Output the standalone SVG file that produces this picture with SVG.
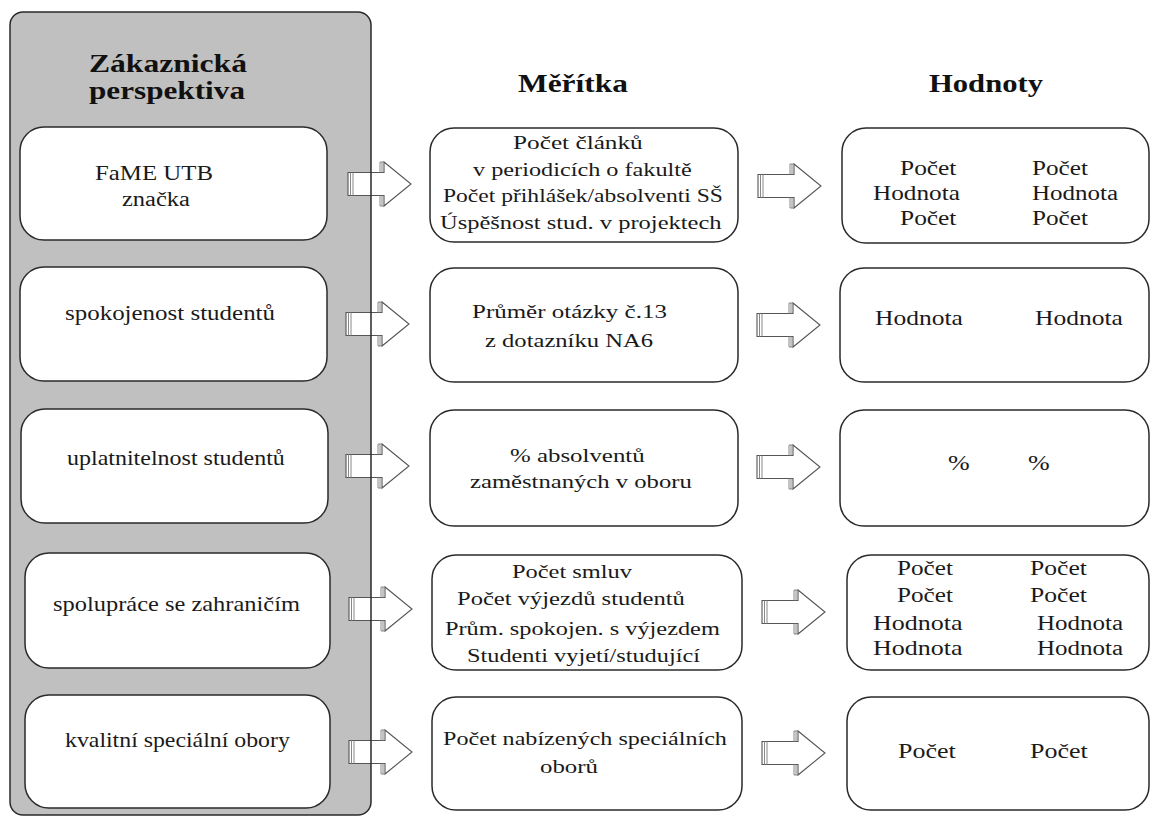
<svg xmlns="http://www.w3.org/2000/svg" xmlns:xlink="http://www.w3.org/1999/xlink" width="1151" height="818" viewBox="0 0 1151 818">
  <style>
    .panel { fill: #c0c0c0; stroke: none; }
    .frame { fill: none; stroke: #2a2a2a; stroke-width: 1.5; }
    .box { fill: #ffffff; stroke: #2a2a2a; stroke-width: 1.5; }
    .head { font-family: "Liberation Serif", "Times New Roman", serif; font-weight: bold; font-size: 25px; fill: #111; }
    .lbl { font-family: "Liberation Serif", "Times New Roman", serif; font-size: 20px; fill: #1a1a1a; }
    .mid { font-family: "Liberation Serif", "Times New Roman", serif; font-size: 19px; fill: #1a1a1a; }
    .arrow { fill: #ffffff; stroke: #555; stroke-width: 1.1; }
    .stripe { stroke: #888; stroke-width: 1; fill: none; }
  </style>
  <defs>
    <!-- block arrow: origin at tail's left end, vertically centred -->
    <g id="blockArrow">
      <path class="arrow" d="M0,-11.5 H36 V-22 L63,0 L36,22 V11.5 H0 Z"/>
      <path class="stripe" d="M2.5,-11.5 V11.5 M5,-11.5 V11.5 M32,-22 V-11.5 M32,11.5 V22 M34,-22 V-11.5 M34,11.5 V22 M32,-22 H36 M32,22 H36"/>
    </g>
  </defs>

  <rect width="1151" height="818" fill="#ffffff"/>

  <!-- customer perspective panel (text is set in a horizontally widened face) -->
  <g id="panel">
    <rect class="panel" x="10" y="12" width="361" height="803" rx="13"/>
    <text class="head" transform="translate(89 72) scale(1.264 1)">Zákaznická</text>
    <text class="head" transform="translate(89 99) scale(1.248 1)">perspektiva</text>
  </g>

  <!-- column headings -->
  <g id="heading-meritka">
    <text class="head" transform="translate(518 92) scale(1.257 1)">Měřítka</text>
  </g>
  <g id="heading-hodnoty">
    <text class="head" transform="translate(929 92) scale(1.225 1)">Hodnoty</text>
  </g>

  <!-- perspective goals -->
  <g id="goal-1">
    <rect class="box" x="20" y="127" width="307" height="113" rx="24"/>
    <text class="lbl" transform="translate(95 180) scale(1.242 1)">FaME UTB</text>
    <text class="lbl" transform="translate(122 206) scale(1.225 1)">značka</text>
  </g>
  <g id="goal-2">
    <rect class="box" x="20" y="267" width="307" height="114" rx="24"/>
    <text class="lbl" transform="translate(65 320) scale(1.248 1)">spokojenost studentů</text>
  </g>
  <g id="goal-3">
    <rect class="box" x="21" y="409" width="307" height="114" rx="24"/>
    <text class="lbl" transform="translate(67 465) scale(1.2 1)">uplatnitelnost studentů</text>
  </g>
  <g id="goal-4">
    <rect class="box" x="25" y="553" width="305" height="115" rx="24"/>
    <text class="lbl" transform="translate(53 611) scale(1.222 1)">spolupráce se zahraničím</text>
  </g>
  <g id="goal-5">
    <rect class="box" x="25" y="695" width="305" height="113" rx="24"/>
    <text class="lbl" transform="translate(65 747) scale(1.191 1)">kvalitní speciální obory</text>
  </g>

  <!-- measures -->
  <g id="measure-1">
    <rect class="box" x="430" y="128" width="308" height="114" rx="24"/>
    <text class="mid" transform="translate(513 149) scale(1.33 1)">Počet článků</text>
    <text class="mid" transform="translate(473 176) scale(1.277 1)">v periodicích o fakultě</text>
    <text class="mid" transform="translate(443 202) scale(1.24 1)">Počet přihlášek/absolventi SŠ</text>
    <text class="mid" transform="translate(440 229) scale(1.29 1)">Úspěšnost stud. v projektech</text>
  </g>
  <g id="measure-2">
    <rect class="box" x="430" y="268" width="308" height="114" rx="24"/>
    <text class="mid" transform="translate(472 318) scale(1.315 1)">Průměr otázky č.13</text>
    <text class="mid" transform="translate(485 347) scale(1.294 1)">z dotazníku NA6</text>
  </g>
  <g id="measure-3">
    <rect class="box" x="430" y="410" width="308" height="116" rx="24"/>
    <text class="mid" transform="translate(510 462) scale(1.31 1)">% absolventů</text>
    <text class="mid" transform="translate(470 488) scale(1.298 1)">zaměstnaných v oboru</text>
  </g>
  <g id="measure-4">
    <rect class="box" x="432" y="555" width="310" height="115" rx="24"/>
    <text class="mid" transform="translate(512 578) scale(1.285 1)">Počet smluv</text>
    <text class="mid" transform="translate(457 605) scale(1.293 1)">Počet výjezdů studentů</text>
    <text class="mid" transform="translate(445 635) scale(1.28 1)">Prům. spokojen. s výjezdem</text>
    <text class="mid" transform="translate(467 662) scale(1.28 1)">Studenti vyjetí/studující</text>
  </g>
  <g id="measure-5">
    <rect class="box" x="432" y="697" width="310" height="113" rx="24"/>
    <text class="mid" transform="translate(443 745) scale(1.27 1)">Počet nabízených speciálních</text>
    <text class="mid" transform="translate(540 773) scale(1.309 1)">oborů</text>
  </g>

  <!-- values -->
  <g id="value-1">
    <rect class="box" x="842" y="128" width="307" height="115" rx="24"/>
    <text class="lbl" transform="translate(900 175) scale(1.27 1)">Počet</text>
    <text class="lbl" transform="translate(1032 175) scale(1.26 1)">Počet</text>
    <text class="lbl" transform="translate(873 200) scale(1.263 1)">Hodnota</text>
    <text class="lbl" transform="translate(1032 200) scale(1.25 1)">Hodnota</text>
    <text class="lbl" transform="translate(900 225) scale(1.27 1)">Počet</text>
    <text class="lbl" transform="translate(1032 225) scale(1.26 1)">Počet</text>
  </g>
  <g id="value-2">
    <rect class="box" x="840" y="268" width="309" height="114" rx="24"/>
    <text class="lbl" transform="translate(875 325) scale(1.277 1)">Hodnota</text>
    <text class="lbl" transform="translate(1035 325) scale(1.277 1)">Hodnota</text>
  </g>
  <g id="value-3">
    <rect class="box" x="840" y="410" width="309" height="116" rx="24"/>
    <text class="lbl" transform="translate(948 470) scale(1.3 1)">%</text>
    <text class="lbl" transform="translate(1028 470) scale(1.3 1)">%</text>
  </g>
  <g id="value-4">
    <rect class="box" x="847" y="555" width="302" height="115" rx="24"/>
    <text class="lbl" transform="translate(897 575) scale(1.26 1)">Počet</text>
    <text class="lbl" transform="translate(1030 575) scale(1.28 1)">Počet</text>
    <text class="lbl" transform="translate(897 602) scale(1.26 1)">Počet</text>
    <text class="lbl" transform="translate(1030 602) scale(1.28 1)">Počet</text>
    <text class="lbl" transform="translate(873 630) scale(1.3 1)">Hodnota</text>
    <text class="lbl" transform="translate(1037 630) scale(1.25 1)">Hodnota</text>
    <text class="lbl" transform="translate(873 655) scale(1.3 1)">Hodnota</text>
    <text class="lbl" transform="translate(1037 655) scale(1.25 1)">Hodnota</text>
  </g>
  <g id="value-5">
    <rect class="box" x="847" y="697" width="302" height="113" rx="24"/>
    <text class="lbl" transform="translate(898 758) scale(1.3 1)">Počet</text>
    <text class="lbl" transform="translate(1030 758) scale(1.3 1)">Počet</text>
  </g>

  <!-- connectors: goal to measure, measure to value -->
  <g id="connectors">
    <use xlink:href="#blockArrow" href="#blockArrow" x="348" y="184"/>
    <use xlink:href="#blockArrow" href="#blockArrow" x="346" y="324"/>
    <use xlink:href="#blockArrow" href="#blockArrow" x="346" y="466"/>
    <use xlink:href="#blockArrow" href="#blockArrow" x="349" y="609"/>
    <use xlink:href="#blockArrow" href="#blockArrow" x="349" y="752"/>
    <use xlink:href="#blockArrow" href="#blockArrow" x="758" y="186"/>
    <use xlink:href="#blockArrow" href="#blockArrow" x="757" y="325"/>
    <use xlink:href="#blockArrow" href="#blockArrow" x="757" y="467"/>
    <use xlink:href="#blockArrow" href="#blockArrow" x="762" y="612"/>
    <use xlink:href="#blockArrow" href="#blockArrow" x="762" y="753"/>
  </g>

  <!-- panel outline drawn over the arrow tails -->
  <g id="panel-frame">
    <rect class="frame" x="10" y="12" width="361" height="803" rx="13"/>
  </g>
</svg>
